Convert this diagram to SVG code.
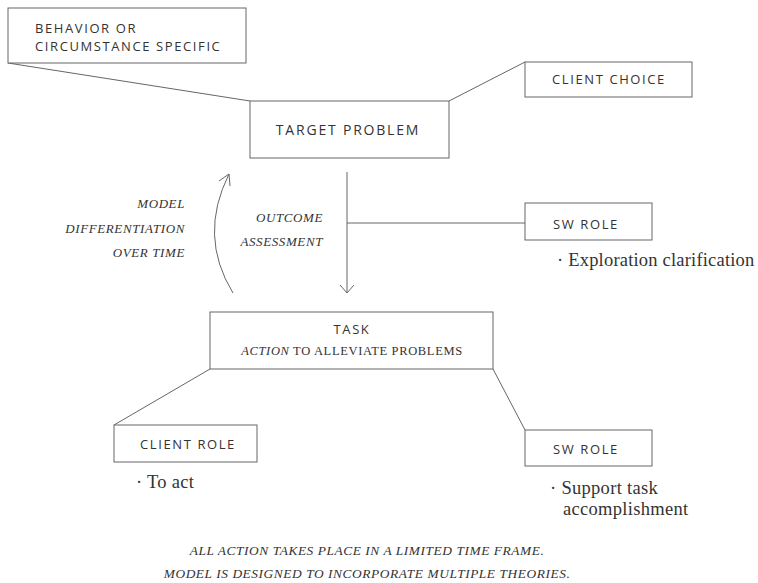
<svg xmlns="http://www.w3.org/2000/svg" width="758" height="583" viewBox="0 0 758 583">
<defs>
<style>
.box{fill:#fff;stroke:#666;stroke-width:1}
.ln{fill:none;stroke:#666;stroke-width:1}
.lab{font-family:"Open Sans","Liberation Sans",sans-serif;font-size:13px;letter-spacing:1.6px;fill:#333}
.ser{font-family:"Liberation Serif",serif;fill:#333}
.it{font-family:"Liberation Serif",serif;font-style:italic;font-size:13px;letter-spacing:0.6px;fill:#333}
.ft{font-family:"Liberation Serif",serif;font-style:italic;font-size:13.4px;letter-spacing:0.55px;fill:#333}
.bul{font-family:"Liberation Serif",serif;font-size:18.5px;letter-spacing:0.3px;fill:#333}
</style>
</defs>
<rect width="758" height="583" fill="#fff"/>
<g id="connectors">
<line class="ln" x1="8" y1="63" x2="250" y2="101"/>
<line class="ln" x1="449" y1="101" x2="525" y2="62"/>
<line class="ln" x1="347" y1="172" x2="347" y2="293"/>
<polyline class="ln" points="340,285 347,293 354,285"/>
<line class="ln" x1="347" y1="223" x2="525" y2="223"/>
<path class="ln" d="M233,293 Q198,236 229,174"/>
<polyline class="ln" points="219,181 229,174 230,186"/>
<line class="ln" x1="210" y1="369" x2="114" y2="425"/>
<line class="ln" x1="493" y1="369" x2="525" y2="430"/>
</g>
<g id="behavior">
<rect class="box" x="8" y="8" width="238" height="55"/>
<text class="lab" x="35" y="33">BEHAVIOR OR</text>
<text class="lab" x="35" y="51">CIRCUMSTANCE SPECIFIC</text>
</g>
<g id="target">
<rect class="box" x="250" y="101" width="199" height="57"/>
<text class="lab" x="348" y="135" text-anchor="middle" style="font-size:14px;letter-spacing:1.8px">TARGET PROBLEM</text>
</g>
<g id="clientchoice">
<rect class="box" x="525" y="62" width="167" height="35"/>
<text class="lab" x="609" y="84" text-anchor="middle">CLIENT CHOICE</text>
</g>
<g id="swrole1">
<rect class="box" x="525" y="203" width="127" height="37"/>
<text class="lab" x="586" y="229" text-anchor="middle">SW ROLE</text>
<text class="bul" x="557" y="266" style="letter-spacing:0.2px">· Exploration clarification</text>
</g>
<g id="outcome">
<text class="it" x="323" y="222" text-anchor="end">OUTCOME</text>
<text class="it" x="323" y="246" text-anchor="end">ASSESSMENT</text>
</g>
<g id="model">
<text class="it" x="185" y="208" text-anchor="end">MODEL</text>
<text class="it" x="185" y="233" text-anchor="end">DIFFERENTIATION</text>
<text class="it" x="185" y="257" text-anchor="end">OVER TIME</text>
</g>
<g id="task">
<rect class="box" x="210" y="312" width="283" height="57"/>
<text class="lab" x="352" y="334" text-anchor="middle">TASK</text>
<text class="ser" x="352" y="355" text-anchor="middle" font-size="12.5" letter-spacing="0.65"><tspan font-style="italic">ACTION</tspan> TO ALLEVIATE PROBLEMS</text>
</g>
<g id="clientrole">
<rect class="box" x="114" y="425" width="143" height="37"/>
<text class="lab" x="188" y="449" text-anchor="middle">CLIENT ROLE</text>
<text class="bul" x="136" y="488">· To act</text>
</g>
<g id="swrole2">
<rect class="box" x="525" y="430" width="127" height="36"/>
<text class="lab" x="586" y="454" text-anchor="middle">SW ROLE</text>
<text class="bul" x="550" y="494">· Support task</text>
<text class="bul" x="563" y="515">accomplishment</text>
</g>
<g id="footer">
<text class="ft" x="367" y="555" text-anchor="middle">ALL ACTION TAKES PLACE IN A LIMITED TIME FRAME.</text>
<text class="ft" x="367" y="578" text-anchor="middle">MODEL IS DESIGNED TO INCORPORATE MULTIPLE THEORIES.</text>
</g>
</svg>
